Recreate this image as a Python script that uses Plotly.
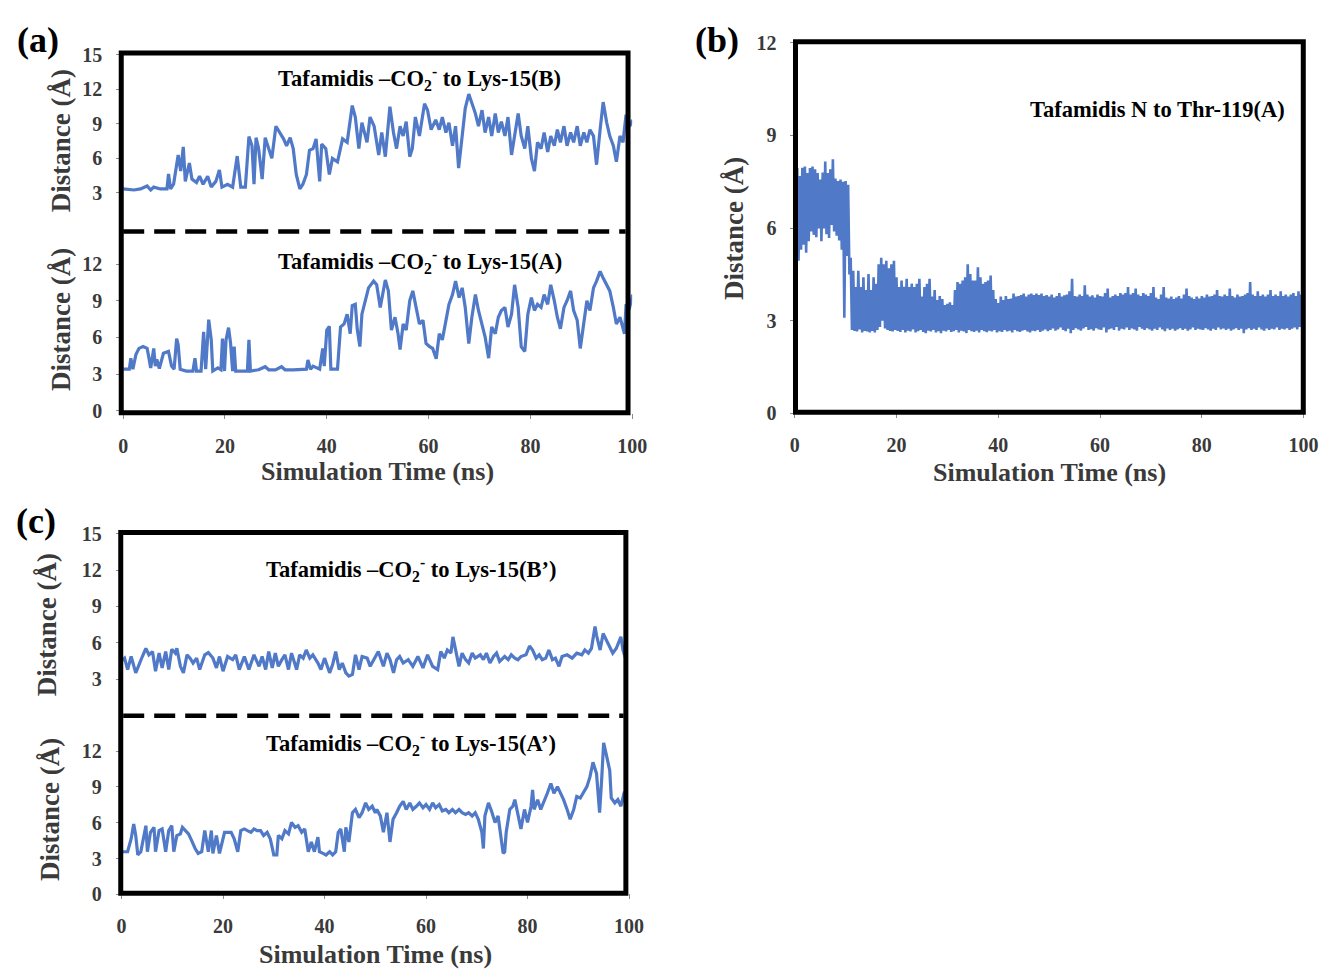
import plotly.graph_objects as go

# ---------------- data ----------------
# (a) upper: Tafamidis -CO2- to Lys-15(B)
a_top_t = [0.0, 0.5, 2.1, 3.4, 4.7, 5.4, 6.0, 7.3, 8.6, 8.9,
           9.3, 9.9, 10.8, 11.3, 11.8, 12.2, 13.0, 13.5, 14.4, 15.0,
           15.7, 16.6, 17.3, 18.2, 18.9, 19.4, 20.5, 21.5, 22.4, 23.1,
           24.0, 24.7, 25.3, 25.7, 26.1, 26.6, 27.3, 27.9, 28.6, 29.2,
           30.0, 30.8, 31.5, 32.1, 32.8, 33.4, 34.0, 34.7, 35.3, 36.0,
           36.6, 37.3, 37.9, 38.6, 39.0, 39.8, 40.5, 41.1, 42.1, 43.1,
           44.0, 45.0, 45.6, 46.3, 46.9, 47.9, 48.5, 49.3, 50.2, 50.8,
           51.5, 52.4, 53.1, 53.7, 54.4, 55.0, 55.6, 56.3, 56.8, 57.4,
           58.2, 59.2, 59.8, 60.5, 61.4, 62.1, 62.7, 63.4, 64.0, 64.7,
           65.3, 65.9, 66.6, 67.2, 67.9, 68.5, 69.2, 69.8, 70.5, 71.1,
           71.8, 72.4, 73.1, 73.7, 74.3, 75.0, 75.6, 76.3, 76.9, 77.6,
           78.2, 78.9, 79.5, 80.2, 80.8, 81.4, 82.1, 82.7, 83.4, 84.0,
           84.7, 85.3, 85.9, 86.6, 87.2, 87.9, 88.5, 89.2, 89.8, 90.5,
           91.1, 91.7, 92.4, 93.0, 93.7, 94.3, 95.0, 95.6, 96.3, 96.9,
           97.6, 98.2, 98.8, 99.5, 100.1]
a_top_d = [3.35, 3.34, 3.25, 3.34, 3.6, 3.25, 3.5, 3.34, 3.34, 4.65,
           3.34, 3.75, 6.3, 4.9, 7.0, 4.0, 5.6, 4.2, 3.9, 4.45,
           3.75, 4.45, 3.5, 4.0, 5.0, 3.5, 3.75, 3.5, 6.2, 3.5,
           3.5, 7.9, 7.1, 3.75, 7.8, 6.85, 4.2, 7.8, 6.85, 6.0,
           8.8, 8.25, 7.7, 7.1, 7.8, 6.85, 4.6, 3.34, 3.75, 4.6,
           6.7, 6.85, 7.7, 4.0, 7.25, 6.85, 4.6, 6.0, 5.7, 7.7,
           7.4, 10.6, 9.6, 6.85, 9.1, 7.4, 9.6, 8.8, 6.3, 8.25,
           6.15, 10.5, 8.25, 6.85, 8.8, 7.95, 9.2, 6.15, 6.85, 9.6,
           7.95, 10.75, 10.2, 8.5, 9.35, 8.5, 9.6, 8.25, 9.1, 7.1,
           8.8, 5.15, 7.95, 10.35, 11.6, 10.75, 9.9, 8.8, 10.2, 8.25,
           9.6, 7.95, 9.9, 8.25, 9.2, 7.95, 9.6, 6.3, 7.95, 9.9,
           7.95, 6.85, 8.8, 6.0, 4.9, 7.4, 6.85, 8.25, 6.55, 7.95,
           7.1, 8.5, 7.4, 8.8, 7.1, 8.25, 7.4, 8.8, 7.1, 8.25,
           7.4, 8.5, 7.95, 5.45, 8.5, 10.9, 9.1, 7.95, 7.1, 5.7,
           7.95, 7.4, 9.8, 8.8, 9.35]

# (a) lower: Tafamidis -CO2- to Lys-15(A)
a_bot_t = [0.0, 0.5, 1.2, 1.5, 1.9, 2.5, 3.1, 3.9, 4.7, 5.0,
           5.4, 6.0, 6.3, 6.6, 7.1, 7.9, 8.9, 9.5, 10.0, 10.5,
           10.8, 11.2, 12.4, 13.7, 14.1, 14.4, 15.3, 15.8, 16.2, 16.8,
           17.3, 17.6, 18.6, 19.2, 19.5, 19.9, 20.2, 20.7, 21.1, 21.5,
           21.8, 22.1, 23.4, 24.4, 24.7, 25.0, 26.6, 27.9, 28.6, 29.9,
           31.1, 31.8, 33.4, 35.0, 36.0, 36.3, 36.8, 37.3, 38.6, 39.2,
           39.5, 40.0, 40.5, 40.8, 42.1, 42.7, 43.4, 44.0, 44.6, 45.0,
           45.6, 46.0, 46.5, 46.9, 47.6, 48.2, 49.2, 49.8, 50.5, 51.5,
           52.1, 52.7, 53.4, 54.0, 54.4, 55.0, 55.6, 56.3, 56.9, 57.6,
           58.2, 58.9, 59.5, 60.2, 60.8, 61.5, 62.1, 62.7, 63.4, 64.0,
           64.7, 65.3, 66.0, 66.6, 67.2, 67.9, 68.5, 69.2, 69.8, 70.5,
           71.1, 71.8, 72.4, 73.1, 73.7, 74.3, 75.0, 75.6, 76.3, 76.9,
           77.6, 78.2, 78.9, 79.5, 80.2, 80.8, 81.4, 82.1, 82.7, 83.4,
           84.0, 84.7, 85.3, 85.9, 86.6, 87.2, 87.9, 88.5, 89.2, 89.8,
           90.5, 91.1, 91.7, 92.4, 93.0, 93.7, 94.3, 95.0, 95.6, 96.3,
           96.9, 97.6, 98.2, 98.5, 98.8, 99.5, 100.1]
a_bot_d = [3.4, 3.4, 3.4, 4.3, 3.4, 4.6, 5.1, 5.25, 5.1, 4.45,
           3.5, 5.1, 3.65, 4.2, 3.45, 4.7, 4.85, 3.65, 3.4, 5.9,
           5.4, 3.4, 3.25, 3.25, 4.3, 3.25, 3.25, 6.45, 3.4, 7.45,
           5.8, 3.25, 3.5, 3.35, 5.9, 3.25, 5.8, 6.8, 5.5, 3.25,
           5.25, 3.25, 3.25, 3.25, 5.8, 3.25, 3.35, 3.6, 3.35, 3.35,
           3.6, 3.35, 3.35, 3.35, 3.4, 4.15, 3.4, 3.65, 3.4, 5.1,
           3.65, 6.6, 6.9, 3.4, 3.4, 6.85, 7.1, 7.9, 6.3, 8.6,
           8.7, 6.6, 5.25, 7.9, 9.1, 10.05, 10.6, 10.3, 8.45, 10.7,
           9.8, 6.6, 7.65, 6.3, 5.0, 7.1, 6.6, 9.0, 9.8, 8.2,
           7.1, 7.4, 5.5, 5.25, 5.1, 4.25, 6.3, 5.8, 7.4, 8.7,
           9.5, 10.6, 9.25, 10.05, 8.45, 5.5, 7.65, 9.5, 8.2, 7.1,
           6.05, 4.3, 6.85, 6.3, 7.65, 8.2, 8.45, 6.85, 7.9, 10.3,
           8.45, 5.25, 4.85, 7.9, 9.25, 8.2, 8.7, 8.45, 9.5, 8.7,
           10.3, 9.0, 7.65, 6.7, 8.45, 9.0, 9.8, 8.2, 7.4, 5.1,
           7.4, 9.0, 8.2, 10.05, 10.6, 11.4, 10.85, 10.3, 9.8, 8.45,
           7.1, 7.65, 6.85, 6.3, 8.7, 8.45, 9.5]

# (b) Tafamidis N to Thr-119(A): dense trace, upper / lower excursions every 0.5 ns
b_step = 0.5
b_high = [7.9, 7.94, 7.68, 7.95, 7.99, 7.78, 7.94, 7.99, 7.9, 7.78,
          7.57, 7.8, 8.15, 7.78, 7.9, 8.23, 7.6, 7.52, 7.57, 7.5,
          7.52, 7.4, 5.04, 4.62, 4.09, 4.62, 4.09, 4.41, 3.99, 4.51,
          3.99, 4.41, 4.2, 4.83, 5.04, 4.83, 4.94, 4.7, 4.83, 4.94,
          4.41, 4.09, 4.3, 4.1, 4.36, 4.09, 4.2, 4.09, 4.2, 4.36,
          3.78, 4.09, 4.2, 4.36, 3.78, 3.99, 3.67, 3.8, 3.7, 3.51,
          3.55, 3.6, 3.51, 3.99, 4.25, 4.2, 4.3, 4.41, 4.83, 4.51,
          4.3, 4.3, 4.73, 4.41, 4.2, 4.25, 4.3, 4.46, 3.99, 3.7,
          3.57, 3.78, 3.67, 3.8, 3.7, 3.72, 3.88, 3.78, 3.8, 3.83,
          3.88, 3.78, 3.85, 3.88, 3.83, 3.88, 3.83, 3.88, 3.8, 3.83,
          3.78, 3.85, 3.75, 3.8, 3.9, 3.78, 3.82, 3.85, 3.95, 4.36,
          3.8, 3.78, 3.85, 3.8, 4.15, 3.85, 3.78, 3.82, 3.75, 3.85,
          3.8, 3.78, 3.9, 4.04, 3.75, 3.8, 3.85, 3.8, 3.9, 3.85,
          3.9, 4.09, 3.85, 3.9, 4.04, 3.85, 3.8, 3.9, 3.85, 3.8,
          3.9, 4.09, 3.75, 3.7, 3.85, 4.09, 3.75, 3.72, 3.78, 3.7,
          3.75, 3.8, 3.72, 3.85, 4.04, 3.8, 3.75, 3.7, 3.78, 3.72,
          3.8, 3.75, 3.85, 3.78, 3.8, 3.85, 3.99, 3.8, 3.78, 3.85,
          3.8, 4.04, 3.8, 3.75, 3.85, 3.78, 3.8, 3.85, 3.9, 4.25,
          3.85, 3.8, 3.95, 3.8, 3.85, 3.78, 3.85, 3.99, 3.8, 3.85,
          3.8, 3.95, 3.8, 3.85, 3.78, 3.85, 3.9, 3.8, 3.95, 3.85,
          3.8]
b_low = [5.15, 4.94, 5.3, 5.46, 5.2, 5.57, 5.89, 5.78, 5.7, 5.99,
         5.57, 5.99, 5.8, 5.68, 6.1, 5.89, 5.75, 5.6, 5.3, 3.1,
         5.1, 4.5, 2.7, 2.67, 2.65, 2.72, 2.62, 2.67, 2.65, 2.62,
         2.67, 2.62, 2.7, 2.8, 3.0, 2.75, 2.7, 2.67, 2.65, 2.7,
         2.67, 2.64, 2.7, 2.62, 2.68, 2.65, 2.72, 2.62, 2.66, 2.7,
         2.64, 2.6, 2.68, 2.65, 2.7, 2.62, 2.66, 2.6, 2.68, 2.65,
         2.7, 2.64, 2.66, 2.7, 2.62, 2.68, 2.65, 2.6, 2.7, 2.66,
         2.64, 2.68, 2.62, 2.7, 2.66, 2.63, 2.68, 2.65, 2.7, 2.62,
         2.66, 2.64, 2.7, 2.65, 2.68, 2.62, 2.7, 2.66, 2.64, 2.68,
         2.7, 2.65, 2.62, 2.68, 2.66, 2.7, 2.64, 2.68, 2.72, 2.66,
         2.7, 2.75, 2.68, 2.72, 2.78, 2.7, 2.66, 2.74, 2.6, 2.7,
         2.76, 2.72, 2.68, 2.75, 2.8, 2.7, 2.73, 2.68, 2.76, 2.72,
         2.7, 2.78, 2.62, 2.72, 2.75, 2.7, 2.8, 2.68, 2.74, 2.72,
         2.78, 2.7, 2.75, 2.72, 2.68, 2.8, 2.74, 2.7, 2.76, 2.72,
         2.68, 2.74, 2.7, 2.78, 2.72, 2.66, 2.75, 2.7, 2.74, 2.68,
         2.72, 2.76, 2.7, 2.74, 2.68, 2.72, 2.78, 2.7, 2.74, 2.72,
         2.7, 2.76, 2.72, 2.68, 2.74, 2.7, 2.78, 2.72, 2.75, 2.7,
         2.74, 2.68, 2.72, 2.76, 2.7, 2.74, 2.6, 2.72, 2.76, 2.7,
         2.74, 2.7, 2.78, 2.72, 2.68, 2.75, 2.7, 2.74, 2.72, 2.78,
         2.7, 2.74, 2.72, 2.76, 2.7, 2.74, 2.78, 2.72, 2.8, 2.75,
         2.9]

# (c) upper: Tafamidis -CO2- to Lys-15(B')
c_top_t = [0.0, 0.6, 1.2, 1.9, 2.8, 3.5, 4.1, 4.8, 5.4, 6.1,
           6.7, 7.4, 8.0, 8.7, 9.3, 9.9, 10.6, 10.9, 11.6, 12.2,
           12.9, 13.5, 14.1, 14.8, 15.4, 16.4, 17.1, 18.0, 18.7, 19.3,
           20.0, 20.9, 21.9, 22.5, 23.2, 24.2, 25.1, 26.1, 27.1, 27.7,
           28.4, 29.0, 29.7, 30.3, 30.9, 31.6, 32.2, 32.9, 33.5, 34.5,
           35.1, 35.8, 36.4, 37.1, 37.7, 38.7, 39.3, 40.0, 41.0, 41.6,
           42.2, 42.9, 43.5, 44.2, 44.8, 45.5, 46.1, 46.8, 47.4, 48.4,
           49.0, 49.7, 50.6, 51.6, 52.3, 52.9, 53.6, 54.2, 54.8, 55.5,
           56.5, 57.4, 58.4, 59.4, 60.3, 61.3, 62.3, 62.9, 63.6, 64.2,
           64.9, 65.3, 65.8, 66.5, 67.1, 67.8, 68.4, 69.1, 69.7, 70.7,
           71.3, 71.9, 72.6, 73.3, 73.9, 74.5, 75.5, 76.2, 76.8, 77.5,
           78.1, 78.7, 79.7, 80.4, 81.0, 81.7, 82.3, 82.9, 83.6, 84.2,
           84.9, 85.5, 86.2, 86.8, 87.8, 88.8, 89.7, 90.7, 91.3, 92.0,
           92.6, 93.3, 93.6, 94.3, 94.9, 95.5, 96.2, 96.8, 97.5, 98.1,
           98.4, 98.8, 99.3]
c_top_d = [4.5, 4.73, 3.78, 4.86, 3.51, 4.32, 4.86, 5.54, 5.0, 5.27,
           3.65, 5.14, 3.92, 5.27, 3.78, 5.46, 5.14, 5.54, 4.05, 3.51,
           5.0, 4.73, 4.32, 4.73, 3.78, 5.0, 5.19, 4.73, 3.92, 4.86,
           3.65, 4.86, 4.6, 5.0, 3.78, 4.86, 3.78, 5.0, 4.05, 4.86,
           3.78, 5.27, 3.92, 5.14, 4.05, 4.6, 5.0, 3.78, 5.14, 3.78,
           5.0, 4.73, 5.4, 4.73, 5.0, 4.32, 3.78, 4.73, 3.51, 4.19,
           5.27, 3.78, 4.32, 3.51, 3.24, 3.38, 5.0, 3.78, 4.86, 4.73,
           4.05, 4.6, 5.27, 4.05, 5.14, 4.6, 3.51, 4.6, 4.86, 4.32,
           4.6, 4.05, 4.86, 3.92, 5.0, 4.05, 3.78, 5.27, 4.73, 5.4,
           5.14, 6.49, 5.54, 4.05, 5.14, 4.6, 4.32, 5.14, 4.73, 5.0,
           4.6, 5.14, 4.32, 4.86, 5.14, 4.46, 4.86, 4.6, 5.0, 4.73,
           4.6, 4.86, 5.0, 5.73, 5.4, 4.73, 5.0, 4.6, 4.73, 5.4,
           4.6, 4.73, 4.05, 4.86, 5.0, 4.73, 5.14, 5.0, 5.4, 5.14,
           5.54, 7.35, 6.62, 5.4, 6.76, 6.22, 5.68, 5.14, 5.54, 6.08,
           6.49, 5.4, 4.73]

# (c) lower: Tafamidis -CO2- to Lys-15(A')
c_bot_t = [0.0, 0.6, 1.2, 1.9, 2.4, 2.8, 3.2, 3.8, 4.5, 4.8,
           5.1, 5.7, 6.4, 6.7, 7.4, 8.0, 8.7, 9.3, 9.9, 10.3,
           10.9, 11.6, 12.0, 12.5, 13.2, 13.8, 14.5, 15.1, 15.8, 16.4,
           17.1, 17.7, 18.0, 18.7, 19.3, 20.3, 20.9, 21.6, 22.2, 22.9,
           23.5, 24.2, 24.8, 25.5, 26.1, 26.7, 27.4, 28.0, 28.7, 29.3,
           30.0, 30.6, 30.9, 31.6, 32.2, 32.9, 33.5, 34.2, 34.8, 35.5,
           36.1, 36.8, 37.4, 38.0, 38.7, 39.0, 39.7, 40.3, 41.0, 41.6,
           42.2, 42.7, 43.2, 43.9, 44.2, 44.8, 45.5, 46.1, 46.8, 47.4,
           48.1, 48.7, 49.4, 50.0, 50.3, 51.0, 51.6, 52.3, 52.9, 53.5,
           54.2, 54.8, 55.5, 56.1, 56.8, 57.4, 58.1, 58.7, 59.4, 60.0,
           60.7, 61.3, 61.9, 62.6, 63.2, 63.9, 64.5, 65.2, 65.8, 66.5,
           67.1, 67.8, 68.4, 69.1, 69.7, 70.3, 71.0, 71.3, 71.6, 72.3,
           72.9, 73.6, 74.2, 74.9, 75.2, 75.5, 75.8, 76.5, 77.1, 77.5,
           78.1, 78.7, 79.4, 80.0, 80.7, 81.0, 81.3, 82.0, 82.6, 83.3,
           83.9, 84.6, 85.2, 85.9, 86.5, 87.1, 87.8, 88.4, 89.1, 89.7,
           90.4, 91.0, 91.7, 92.3, 92.9, 93.6, 94.2, 94.6, 95.0, 95.5,
           96.2, 96.5, 97.2, 97.8, 98.4, 99.1, 99.4]
c_bot_d = [3.57, 3.57, 3.57, 4.66, 5.89, 4.93, 3.3, 3.57, 5.2, 5.75,
           3.57, 5.2, 5.61, 3.57, 5.34, 5.48, 3.57, 5.34, 5.75, 3.57,
           4.93, 5.07, 5.61, 5.34, 5.07, 4.52, 3.84, 3.43, 3.57, 5.34,
           3.57, 5.34, 3.43, 4.93, 3.43, 5.2, 5.2, 5.2, 4.66, 3.57,
           5.34, 5.48, 5.34, 5.2, 5.48, 5.34, 5.34, 4.93, 5.2, 4.66,
           3.3, 3.3, 4.93, 4.66, 5.34, 5.07, 6.02, 5.61, 5.75, 5.2,
           5.48, 3.57, 4.39, 3.57, 4.8, 3.57, 3.43, 3.3, 3.57, 3.3,
           3.57, 5.2, 5.48, 3.57, 5.61, 4.39, 6.84, 7.11, 6.43, 6.84,
           7.66, 7.11, 7.38, 6.84, 7.11, 6.57, 5.2, 6.84, 4.39, 6.29,
           6.84, 7.38, 7.79, 7.11, 7.66, 7.11, 7.38, 7.66, 7.25, 7.52,
           7.11, 7.66, 7.25, 7.52, 6.98, 7.11, 6.84, 7.11, 6.84, 7.11,
           6.84, 6.7, 6.84, 6.57, 6.84, 6.29, 5.2, 3.84, 6.57, 7.66,
           6.98, 6.02, 6.57, 4.11, 3.43, 3.57, 5.2, 7.11, 7.38, 7.93,
           6.84, 5.48, 7.11, 6.02, 7.38, 8.75, 7.11, 7.93, 7.11, 7.79,
           8.47, 9.29, 8.47, 9.02, 8.47, 7.93, 7.11, 6.29, 7.11, 8.2,
           8.07, 8.47, 9.02, 9.84, 11.06, 10.11, 6.84, 9.56, 12.7, 11.74,
           10.38, 8.07, 7.66, 7.93, 7.38, 8.61, 7.25]

x_ticks = [0, 20, 40, 60, 80, 100]
y_ticks_top = [3, 6, 9, 12, 15]
y_ticks_bot = [0, 3, 6, 9, 12]
y_ticks_b = [0, 3, 6, 9, 12]

labels = {
    "a_top": "Tafamidis –CO<sub>2</sub><sup>-</sup> to Lys-15(B)",
    "a_bot": "Tafamidis –CO<sub>2</sub><sup>-</sup> to Lys-15(A)",
    "b": "Tafamidis N to Thr-119(A)",
    "c_top": "Tafamidis –CO<sub>2</sub><sup>-</sup> to Lys-15(B’)",
    "c_bot": "Tafamidis –CO<sub>2</sub><sup>-</sup> to Lys-15(A’)",
}

for t_, d_ in [(a_top_t, a_top_d), (a_bot_t, a_bot_d), (c_top_t, c_top_d), (c_bot_t, c_bot_d)]:
    assert len(t_) == len(d_), (len(t_), len(d_))
assert len(b_high) == len(b_low)

# ---------------- build ----------------
W, H = 1337, 977
def px(x):
    return x / W
def py(y):
    return 1 - y / H

BLUE = "#5079C8"
SERIF = "Liberation Serif"
GREY_TXT = "#3a3a3a"

# (b) trace: alternate between upper and lower excursions
b_t, b_d = [], []
for i, (hi, lo) in enumerate(zip(b_high, b_low)):
    b_t += [i * b_step, i * b_step + b_step / 2]
    b_d += [hi, lo]

fig = go.Figure()
line_main = dict(color=BLUE, width=3.2)
fig.add_trace(go.Scatter(x=a_top_t, y=a_top_d, mode="lines", line=line_main, xaxis="x", yaxis="y"))
fig.add_trace(go.Scatter(x=a_bot_t, y=a_bot_d, mode="lines", line=line_main, xaxis="x", yaxis="y2"))
fig.add_trace(go.Scatter(x=b_t, y=b_d, mode="lines", line=dict(color=BLUE, width=2.6), xaxis="x2", yaxis="y3"))
fig.add_trace(go.Scatter(x=c_top_t, y=c_top_d, mode="lines", line=line_main, xaxis="x3", yaxis="y4"))
fig.add_trace(go.Scatter(x=c_bot_t, y=c_bot_d, mode="lines", line=line_main, xaxis="x3", yaxis="y5"))

tickfont = dict(family=SERIF, size=20, color=GREY_TXT, weight="bold")
common = dict(showgrid=False, zeroline=False, showline=False, ticks="outside",
              ticklen=5, tickwidth=1.2, tickcolor="#8c8c8c", tickfont=tickfont,
              fixedrange=True, anchor="free", ticklabelstandoff=10)

def xax(x0, x1, ypos):
    return dict(common, domain=[px(x0), px(x1)], range=[0, 100], position=py(ypos),
                tickmode="array", tickvals=x_ticks)

def yax(y0, y1, rng, xpos, tv):
    return dict(common, domain=[py(y0), py(y1)], range=rng, position=px(xpos),
                tickmode="array", tickvals=tv)

fig.update_layout(
    width=W, height=H, margin=dict(l=0, r=0, t=0, b=0),
    paper_bgcolor="white", plot_bgcolor="rgba(0,0,0,0)", showlegend=False,
    xaxis=xax(120, 636.7, 411),
    yaxis=yax(221.3, 45, [0, 15], 118, y_ticks_top),
    yaxis2=yax(409, 221.3, [0, 15], 118, y_ticks_bot),
    xaxis2=xax(801.7, 1318.3, 410.5),
    yaxis3=yax(411.7, 32.4, [0, 12], 802.5, y_ticks_b),
    xaxis3=xax(118.3, 633.5, 902.5),
    yaxis4=yax(720.5, 535, [0, 15], 117.5, y_ticks_top),
    yaxis5=yax(903.7, 720.5, [0, 15], 117.5, y_ticks_bot),
)

shapes = []
def box(x0, y0, x1, y1):
    shapes.append(dict(type="rect", xref="paper", yref="paper", x0=px(x0), x1=px(x1),
                       y0=py(y1), y1=py(y0), line=dict(color="black", width=5),
                       fillcolor="rgba(0,0,0,0)", layer="above"))
def dash(x0, x1, y):
    shapes.append(dict(type="line", xref="paper", yref="paper", x0=px(x0), x1=px(x1),
                       y0=py(y), y1=py(y), line=dict(color="black", width=4.5, dash="21px,10px"),
                       layer="above"))
box(118, 43, 632.5, 411)
dash(120, 630, 225.5)
box(802.5, 31.5, 1318, 410.5)
box(117.5, 533.5, 630.3, 902.5)
dash(120, 628, 721)
fig.update_layout(shapes=shapes)

ann = []
def text(x, y, s, size, color="black", angle=0):
    ann.append(dict(x=px(x), y=py(y), xref="paper", yref="paper", text=s, showarrow=False,
                    xanchor="center", yanchor="middle", textangle=angle,
                    font=dict(family=SERIF, size=size, color=color, weight="bold")))

text(33, 30, "(a)", 36)
text(723, 30, "(b)", 36)
text(31, 522, "(c)", 36)

ytitle = "Distance (Å)"
text(57, 133, ytitle, 27, GREY_TXT, -90)
text(57, 316, ytitle, 27, GREY_TXT, -90)
text(740, 222, ytitle, 27, GREY_TXT, -90)
text(43, 628, ytitle, 27, GREY_TXT, -90)
text(45, 817, ytitle, 27, GREY_TXT, -90)

xtitle = "Simulation Time (ns)"
text(378, 471, xtitle, 26, GREY_TXT)
text(1060, 472, xtitle, 26, GREY_TXT)
text(376, 965, xtitle, 26, GREY_TXT)

text(421, 69, labels["a_top"], 22.5)
text(421, 256, labels["a_bot"], 22.5)
text(1170, 101, labels["b"], 22.5)
text(412, 571, labels["c_top"], 22.5)
text(412, 749, labels["c_bot"], 22.5)
fig.update_layout(annotations=ann)

fig.write_html("out.html")
